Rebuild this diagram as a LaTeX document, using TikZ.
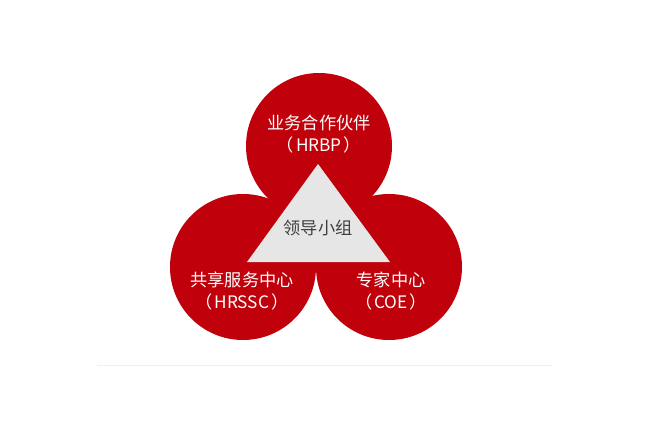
\documentclass[tikz,border=0pt]{standalone}
\usepackage{fontspec}
\setmainfont{Noto Sans CJK SC}
\newfontfamily\cjk{Noto Sans CJK SC}
\definecolor{cred}{RGB}{192,0,10}
\definecolor{tgray}{RGB}{230,230,230}
\definecolor{ttext}{RGB}{64,64,64}
\definecolor{lgray}{RGB}{240,240,240}
\begin{document}
\begin{tikzpicture}[x=1pt,y=-1pt,
  circ/.style={circle,fill=cred,minimum size=146pt,inner sep=0pt},
  lbl/.style={text=white,font=\cjk\fontsize{17.2}{22}\selectfont,align=center},
  tlbl/.style={text=ttext,font=\cjk\fontsize{17.2}{22}\selectfont}]
\useasboundingbox (0,0) rectangle (650,423);
\node[circ] (top) at (319,146) {};
\node[circ] (left) at (243,267) {};
\node[circ] (right) at (389,267) {};
\coordinate (apex) at (318,164);
\coordinate (bl) at (247,262);
\coordinate (br) at (390,262);
\fill[tgray] (apex) -- (bl) -- (br) -- cycle;
\node[lbl] (tl1) at (319,123) {业务合作伙伴};
\node[lbl] (tl2) at (319,145) {（\kern2pt HRBP\kern2pt）};
\node[tlbl] (mid) at (318,228) {领导小组};
\node[lbl] (ll1) at (242,280) {共享服务中心};
\node[lbl] (ll2) at (242,302) {（\kern2pt HRSSC\kern2pt）};
\node[lbl] (rl1) at (391,280) {专家中心};
\node[lbl] (rl2) at (391,302) {（\kern2pt COE\kern2pt）};
\coordinate (la) at (97,365);
\coordinate (lb) at (552,365);
\draw[lgray,line width=0.8pt] (la) -- (lb);
\end{tikzpicture}
\end{document}
